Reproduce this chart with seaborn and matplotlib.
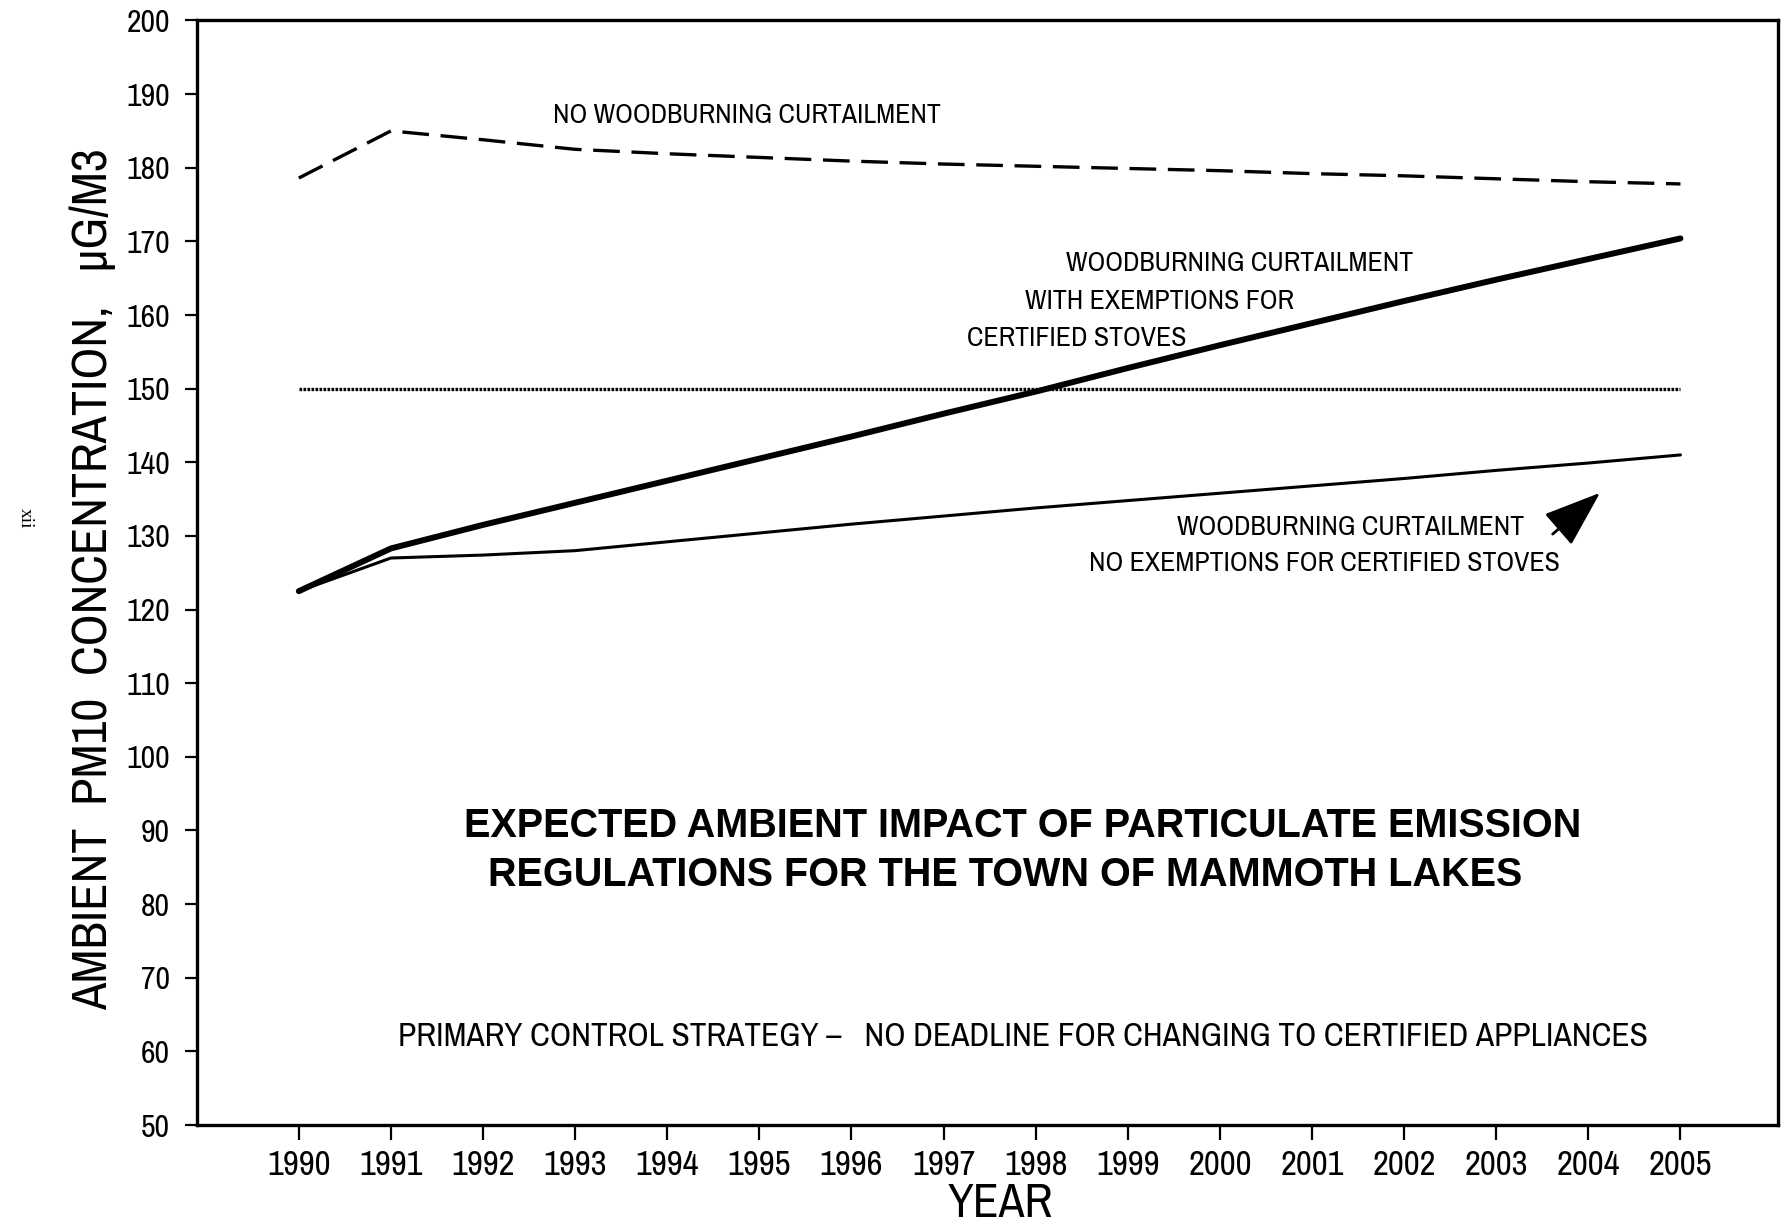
import numpy as np
import pandas as pd
import matplotlib
matplotlib.use("Agg")
import matplotlib.pyplot as plt
import seaborn as sns

# Données
years = list(range(1990, 2006))
no_curtailment = [178.6, 185.0, 183.8, 182.5, 181.9, 181.4, 180.9, 180.5,
                  180.2, 179.9, 179.6, 179.2, 178.9, 178.5, 178.1, 177.8]
standard_150 = [150.0] * 16
with_exemptions = [122.5, 128.3, 131.5, 134.5, 137.5, 140.5, 143.5, 146.6,
                   149.6, 152.8, 155.9, 158.9, 161.9, 164.8, 167.6, 170.4]
no_exemptions = [122.5, 127.0, 127.4, 128.0, 129.2, 130.4, 131.6, 132.7,
                 133.8, 134.8, 135.8, 136.8, 137.8, 138.9, 139.9, 141.0]
y_ticks = list(range(50, 201, 10))

df = pd.DataFrame({
    "year": years,
    "no_curtailment": no_curtailment,
    "standard": standard_150,
    "with_exemptions": with_exemptions,
    "no_exemptions": no_exemptions,
})

sns.set_style("ticks")
plt.rcParams["font.family"] = ["Archivo Narrow", "DejaVu Sans"]
plt.rcParams["text.color"] = "black"
plt.rcParams["xtick.color"] = "black"
plt.rcParams["ytick.color"] = "black"
plt.rcParams["axes.labelcolor"] = "black"
plt.rcParams["axes.edgecolor"] = "black"

fig = plt.figure(figsize=(17.87, 12.25), dpi=100)
ax = fig.add_axes([0.110, 0.0816, 0.885, 0.9017])

sns.lineplot(data=df, x="year", y="no_curtailment", ax=ax, color="black",
             lw=2.4, linestyle=(0, (8, 3.5)))
sns.lineplot(data=df, x="year", y="standard", ax=ax, color="black",
             lw=2.4, linestyle=(0, (0.8, 0.4)))
sns.lineplot(data=df, x="year", y="with_exemptions", ax=ax, color="black",
             lw=4.3, solid_capstyle="round")
sns.lineplot(data=df, x="year", y="no_exemptions", ax=ax, color="black",
             lw=2.2)

ax.set_xlim(1988.89, 2006.06)
ax.set_ylim(50, 200)
ax.set_xticks(years)
ax.set_xticklabels([str(y) for y in years])
ax.set_yticks(y_ticks)
ax.tick_params(axis="x", direction="out", length=11, width=1.6, pad=6,
               labelsize=25)
ax.tick_params(axis="y", direction="out", length=9, width=1.6, pad=10,
               labelsize=23)
for s in ax.spines.values():
    s.set_linewidth(2.4)
    s.set_visible(True)

ax.set_xlabel("YEAR", fontsize=34)
ax.xaxis.set_label_coords(0.508, -0.052)
ax.set_ylabel("AMBIENT  PM10  CONCENTRATION,   μG/M3", fontsize=36)
ax.yaxis.set_label_coords(-0.051, 0.494)

# Annotations
ax.text(1994.86, 187.1, "NO WOODBURNING CURTAILMENT", fontsize=20,
        ha="center", va="center")
ax.text(1998.33, 167.0, "WOODBURNING CURTAILMENT", fontsize=20,
        ha="left", va="center")
ax.text(1997.88, 161.8, "WITH EXEMPTIONS FOR", fontsize=20,
        ha="left", va="center")
ax.text(1997.25, 156.8, "CERTIFIED STOVES", fontsize=20,
        ha="left", va="center")
ax.text(2001.42, 131.1, "WOODBURNING CURTAILMENT", fontsize=20,
        ha="center", va="center")
ax.text(2001.13, 126.2, "NO EXEMPTIONS FOR CERTIFIED STOVES", fontsize=20,
        ha="center", va="center")
ax.annotate("", xy=(2004.15, 136.1), xytext=(2003.59, 130.0),
            arrowprops=dict(arrowstyle="-|>,head_length=1.8,head_width=0.65",
                            mutation_scale=20, color="black", lw=2))

title_font = ["Liberation Sans", "DejaVu Sans"]
ax.text(1997.86, 90.6, "EXPECTED AMBIENT IMPACT OF PARTICULATE EMISSION",
        fontsize=28.5, fontweight="bold", family=title_font,
        ha="center", va="center")
ax.text(1997.67, 83.9, "REGULATIONS FOR THE TOWN OF MAMMOTH LAKES",
        fontsize=28.5, fontweight="bold", family=title_font,
        ha="center", va="center")
ax.text(1997.86, 61.9,
        "PRIMARY CONTROL STRATEGY –   NO DEADLINE FOR CHANGING TO CERTIFIED APPLIANCES",
        fontsize=24, ha="center", va="center")

fig.text(25 / 1787, 1 - 518 / 1225, "xii", rotation=-90, fontsize=14,
         family=["Liberation Serif", "DejaVu Serif"], ha="center", va="center")

fig.savefig("out.png", dpi=100)
